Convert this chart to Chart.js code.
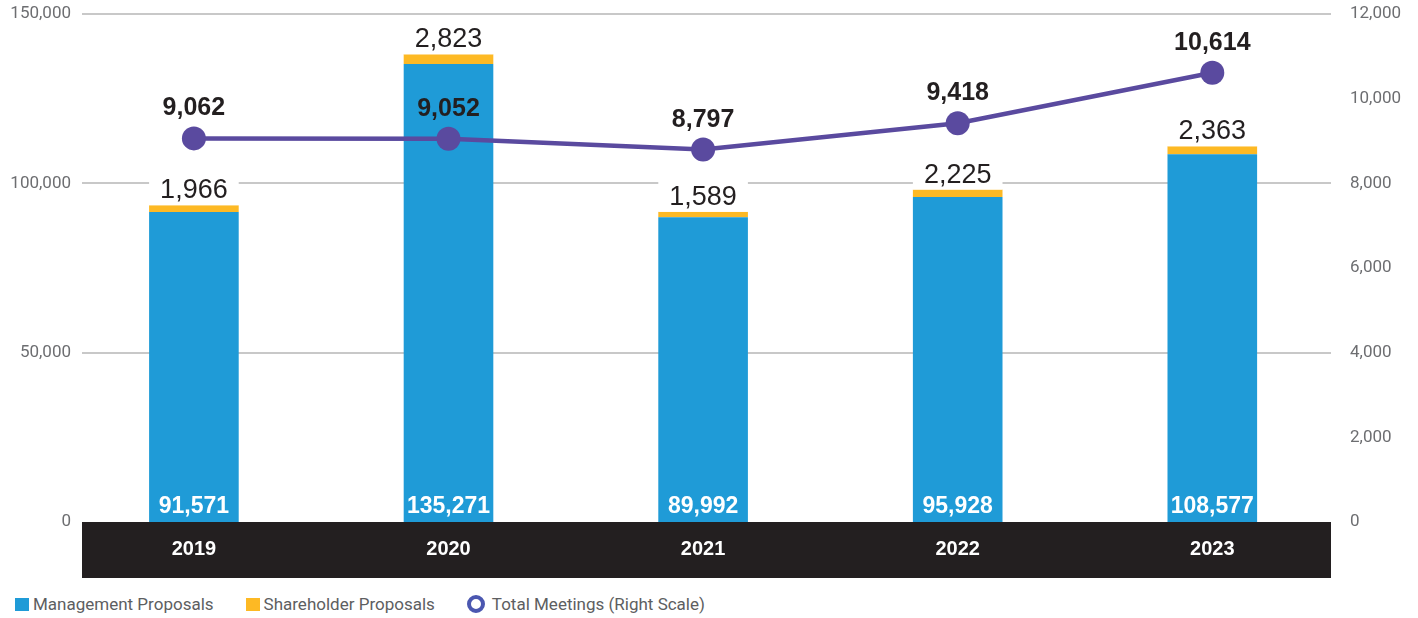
<!DOCTYPE html>
<html lang="en">
<head>
    <meta charset="UTF-8">
    <title>Proposals and Meetings</title>
    <script src="https://cdn.jsdelivr.net/npm/chart.js"></script>
    <style>
        body {
            margin: 0;
            background-color: #ffffff;
            font-family: Roboto, 'Liberation Sans', sans-serif;
        }
        #wrap {
            position: relative;
            width: 1418px;
            height: 618px;
        }
        canvas {
            display: block;
        }
        #legend {
            position: absolute;
            left: 15px;
            top: 594px;
            display: flex;
            align-items: center;
            font-size: 17px;
            color: #5d5e61;
        }
        .item {
            display: flex;
            align-items: center;
            margin-right: 32px;
        }
        .box {
            width: 14px;
            height: 13px;
            margin-right: 4px;
        }
        .ring {
            width: 10px;
            height: 10px;
            border-radius: 50%;
            border: 4px solid #4b57b0;
            background: #fff;
            margin-right: 7px;
        }
    </style>
</head>
<body>
<div id="wrap">
    <canvas id="chart" width="1418" height="590"></canvas>
    <div id="legend"></div>
</div>

<script>
    const years = ['2019', '2020', '2021', '2022', '2023'];
    const managementProposals = [91571, 135271, 89992, 95928, 108577];
    const shareholderProposals = [1966, 2823, 1589, 2225, 2363];
    const totalMeetings = [9062, 9052, 8797, 9418, 10614];

    const leftMax = 150000, leftStep = 50000;
    const rightMax = 12000, rightStep = 2000;

    const blue = '#1f9bd7';
    const yellow = '#fdb924';
    const purple = '#5a4a9f';
    const dark = '#231f20';

    const fmt = v => Number(v).toLocaleString('en-US');

    // black band behind the year labels
    const bandPlugin = {
        id: 'band',
        afterLayout(chart) {
            // nudge tick labels: left ones a bit into the plot, right ones outward
            chart.scales.y.right = 71;
            chart.scales.y1.left = 1350;
        },
        beforeDraw(chart) {
            const {ctx, chartArea} = chart;
            ctx.save();
            ctx.fillStyle = dark;
            ctx.fillRect(82, chartArea.bottom, 1331 - 82, 56);
            ctx.restore();
        }
    };

    // gridlines drawn narrower than the category area
    const gridPlugin = {
        id: 'gridLines',
        beforeDatasetsDraw(chart) {
            const {ctx} = chart;
            const y = chart.scales.y;
            ctx.save();
            ctx.strokeStyle = '#c8c8c8';
            ctx.lineWidth = 2;
            y.ticks.forEach(t => {
                if (t.value === 0) return;
                const py = Math.round(y.getPixelForValue(t.value));
                ctx.beginPath();
                ctx.moveTo(82, py);
                ctx.lineTo(1331, py);
                ctx.stroke();
            });
            ctx.restore();
        }
    };

    const labelPlugin = {
        id: 'valueLabels',
        afterDatasetsDraw(chart) {
            const {ctx} = chart;
            const mgmt = chart.getDatasetMeta(1).data;
            const share = chart.getDatasetMeta(2).data;
            const line = chart.getDatasetMeta(0).data;
            ctx.save();
            ctx.textAlign = 'center';
            ctx.textBaseline = 'alphabetic';

            share.forEach((bar, i) => {
                ctx.fillStyle = '#ffffff';
                ctx.fillRect(bar.x - bar.width / 2, bar.y - 34, bar.width, 34);
                ctx.fillStyle = dark;
                ctx.font = '27px "Liberation Sans", Arial, sans-serif';
                ctx.fillText(fmt(shareholderProposals[i]), bar.x, bar.y - 7);
            });

            mgmt.forEach((bar, i) => {
                ctx.fillStyle = '#ffffff';
                ctx.font = 'bold 23px "Liberation Sans", Arial, sans-serif';
                ctx.fillText(fmt(managementProposals[i]), bar.x, bar.base - 9);
            });

            line.forEach((pt, i) => {
                ctx.fillStyle = dark;
                ctx.font = 'bold 25px "Liberation Sans", Arial, sans-serif';
                ctx.fillText(fmt(totalMeetings[i]), pt.x, pt.y - 23);
            });
            ctx.restore();
        }
    };

    const ctx = document.getElementById('chart').getContext('2d');
    const chart = new Chart(ctx, {
        type: 'bar',
        data: {
            labels: years,
            datasets: [
                {
                    type: 'line',
                    label: 'Total Meetings (Right Scale)',
                    data: totalMeetings,
                    yAxisID: 'y1',
                    borderColor: purple,
                    backgroundColor: purple,
                    borderWidth: 4.5,
                    pointRadius: 12,
                    pointHoverRadius: 12,
                    pointBackgroundColor: purple,
                    pointBorderWidth: 0,
                    tension: 0,
                    order: 0
                },
                {
                    label: 'Management Proposals',
                    data: managementProposals,
                    backgroundColor: blue,
                    yAxisID: 'y',
                    stack: 'p',
                    barPercentage: 0.352,
                    categoryPercentage: 1,
                    order: 1
                },
                {
                    label: 'Shareholder Proposals',
                    data: shareholderProposals,
                    backgroundColor: yellow,
                    yAxisID: 'y',
                    stack: 'p',
                    barPercentage: 0.352,
                    categoryPercentage: 1,
                    order: 2
                }
            ]
        },
        options: {
            responsive: false,
            animation: false,
            layout: {
                padding: {top: 14, bottom: 12, left: 0, right: 0}
            },
            plugins: {
                legend: {display: false},
                tooltip: {enabled: false}
            },
            scales: {
                x: {
                    stacked: true,
                    grid: {display: false, drawTicks: false},
                    border: {display: false},
                    ticks: {
                        color: '#ffffff',
                        padding: 15,
                        font: {family: '"Liberation Sans", Arial, sans-serif', size: 20, weight: 'bold'}
                    },
                    afterFit(scale) { scale.height = 56; }
                },
                y: {
                    stacked: true,
                    position: 'left',
                    min: 0,
                    max: leftMax,
                    grid: {display: false, drawTicks: false},
                    border: {display: false},
                    ticks: {
                        stepSize: leftStep,
                        color: '#6d6e71',
                        padding: 0,
                        font: {family: 'Roboto, sans-serif', size: 17},
                        callback: v => fmt(v)
                    },
                    afterFit(scale) { scale.width = 66.6; }
                },
                y1: {
                    position: 'right',
                    min: 0,
                    max: rightMax,
                    grid: {display: false, drawTicks: false},
                    border: {display: false},
                    ticks: {
                        stepSize: rightStep,
                        color: '#6d6e71',
                        padding: 0,
                        font: {family: 'Roboto, sans-serif', size: 17},
                        callback: v => fmt(v)
                    },
                    afterFit(scale) { scale.width = 78.4; }
                }
            }
        },
        plugins: [bandPlugin, gridPlugin, labelPlugin]
    });

    // legend built from the chart's datasets
    const legendEl = document.getElementById('legend');
    [1, 2, 0].forEach(i => {
        const ds = chart.data.datasets[i];
        const item = document.createElement('div');
        item.className = 'item';
        const mark = document.createElement('span');
        if (ds.type === 'line') {
            mark.className = 'ring';
        } else {
            mark.className = 'box';
            mark.style.background = ds.backgroundColor;
        }
        const txt = document.createElement('span');
        txt.textContent = ds.label;
        item.appendChild(mark);
        item.appendChild(txt);
        legendEl.appendChild(item);
    });
</script>
</body>
</html>
